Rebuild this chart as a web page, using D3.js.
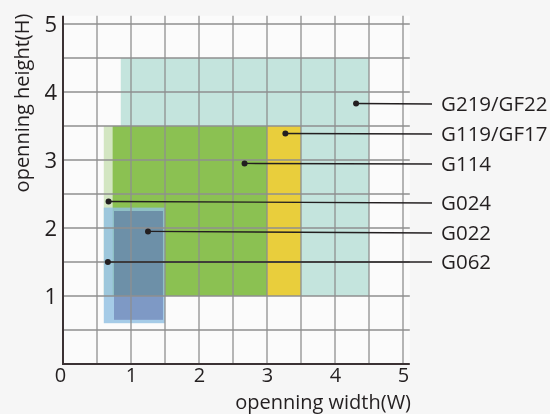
<!DOCTYPE html>
<html>
<head>
<meta charset="utf-8">
<script src="https://cdn.jsdelivr.net/npm/d3@7"></script>
<style>
  html, body { margin: 0; padding: 0; background: #f6f6f6; }
  svg { display: block; }
  text { font-family: "Open Sans", "Noto Sans", sans-serif; fill: #231f20; }
</style>
</head>
<body>
<svg id="chart" width="550" height="414"></svg>
<script>
// ---- data ----
const names   = ["G219/GF22", "G024", "G119/GF17", "G114", "G062", "G022"];
const x0      = [0.85, 0.60, 0.75, 0.73, 0.60, 0.75];
const x1      = [4.50, 3.00, 3.50, 3.00, 1.50, 1.47];
const y0      = [1.00, 1.00, 1.00, 1.00, 0.60, 0.65];
const y1      = [4.50, 3.50, 3.50, 3.50, 2.30, 2.25];
const fills   = ["#c4e4dd", "#d3e6c2", "#e9ce3c", "#8bc152", "#90bfe2", "#c3c0da"];
const alphas  = [1, 1, 1, 1, 0.8, 1];
const blends  = ["normal", "normal", "normal", "normal", "normal", "multiply"];

// callout labels (top to bottom)
const labelNames = ["G219/GF22", "G119/GF17", "G114", "G024", "G022", "G062"];
const dotX       = [4.31, 3.27, 2.67, 0.67, 1.25, 0.66];
const dotY       = [3.83, 3.39, 2.95, 2.39, 1.95, 1.50];
const labelPixY  = [104, 134, 164, 203, 233, 262];

const xTicks = [0, 1, 2, 3, 4, 5];
const yTicks = [1, 2, 3, 4, 5];
const gridVals = d3.range(1, 11).map(d => d / 2);

// ---- layout ----
const svg = d3.select("#chart");
const x = d3.scaleLinear().domain([0, 5]).range([63, 403]);
const y = d3.scaleLinear().domain([0, 5]).range([364, 24]);
const xMax = 5.1, yMax = 5.12;
const fmt = d3.format("d");

// plot background
svg.append("rect")
  .attr("x", x(0)).attr("y", y(yMax))
  .attr("width", x(xMax) - x(0)).attr("height", y(0) - y(yMax))
  .attr("fill", "#fbfbfb");

// rectangles
svg.append("g").selectAll("rect")
  .data(names.map((n, i) => i))
  .join("rect")
  .attr("x", i => x(x0[i]))
  .attr("y", i => y(y1[i]))
  .attr("width", i => x(x1[i]) - x(x0[i]))
  .attr("height", i => y(y0[i]) - y(y1[i]))
  .attr("fill", i => fills[i])
  .attr("fill-opacity", i => alphas[i])
  .style("mix-blend-mode", i => blends[i]);

// grid
const grid = svg.append("g").attr("stroke", "#8f8f8f").attr("stroke-width", 1.3);
grid.selectAll("line.v").data(gridVals).join("line").attr("class", "v")
  .attr("x1", d => x(d)).attr("x2", d => x(d))
  .attr("y1", y(yMax)).attr("y2", y(0));
grid.selectAll("line.h").data(gridVals).join("line").attr("class", "h")
  .attr("y1", d => y(d)).attr("y2", d => y(d))
  .attr("x1", x(0)).attr("x2", x(xMax));

// axes
const xAxis = svg.append("g").attr("transform", `translate(0,${y(0)})`)
  .call(d3.axisBottom(x).tickValues(xTicks).tickFormat(fmt).tickSize(0).tickPadding(4));
xAxis.select(".domain").attr("d", `M${x(0)},0H${x(xMax)}`)
  .attr("stroke", "#3b3234").attr("stroke-width", 2);
xAxis.selectAll("text").attr("font-size", 20).attr("fill", "#231f20")
  .attr("font-family", "Open Sans, Noto Sans, sans-serif")
  .attr("dx", d => d === 0 ? -3 : 0);

const yAxis = svg.append("g").attr("transform", `translate(${x(0)},0)`)
  .call(d3.axisLeft(y).tickValues(yTicks).tickFormat(fmt).tickSize(0).tickPadding(6));
yAxis.select(".domain").attr("d", `M0,${y(yMax)}V${y(0) + 1}`)
  .attr("stroke", "#3b3234").attr("stroke-width", 2);
yAxis.selectAll("text").attr("font-size", 22).attr("fill", "#231f20")
  .attr("font-family", "Open Sans, Noto Sans, sans-serif");

// axis titles
svg.append("text")
  .attr("x", 411).attr("y", 409)
  .attr("text-anchor", "end").attr("font-size", 20)
  .text("openning width(W)");
svg.append("text")
  .attr("transform", `translate(29,${103}) rotate(-90)`)
  .attr("text-anchor", "middle").attr("font-size", 20)
  .text("openning height(H)");

// callouts
const lineEnd = 432;
const call = svg.append("g");
call.selectAll("line").data(labelNames.map((n, i) => i)).join("line")
  .attr("x1", i => x(dotX[i])).attr("y1", i => y(dotY[i]))
  .attr("x2", lineEnd).attr("y2", i => labelPixY[i])
  .attr("stroke", "#231f20").attr("stroke-width", 1.4);
call.selectAll("circle").data(labelNames.map((n, i) => i)).join("circle")
  .attr("cx", i => x(dotX[i])).attr("cy", i => y(dotY[i]))
  .attr("r", 3).attr("fill", "#231f20");
call.selectAll("text").data(labelNames.map((n, i) => i)).join("text")
  .attr("x", 441).attr("y", i => labelPixY[i])
  .attr("dy", "0.36em").attr("font-size", 20.5)
  .text(i => labelNames[i]);
</script>
</body>
</html>
